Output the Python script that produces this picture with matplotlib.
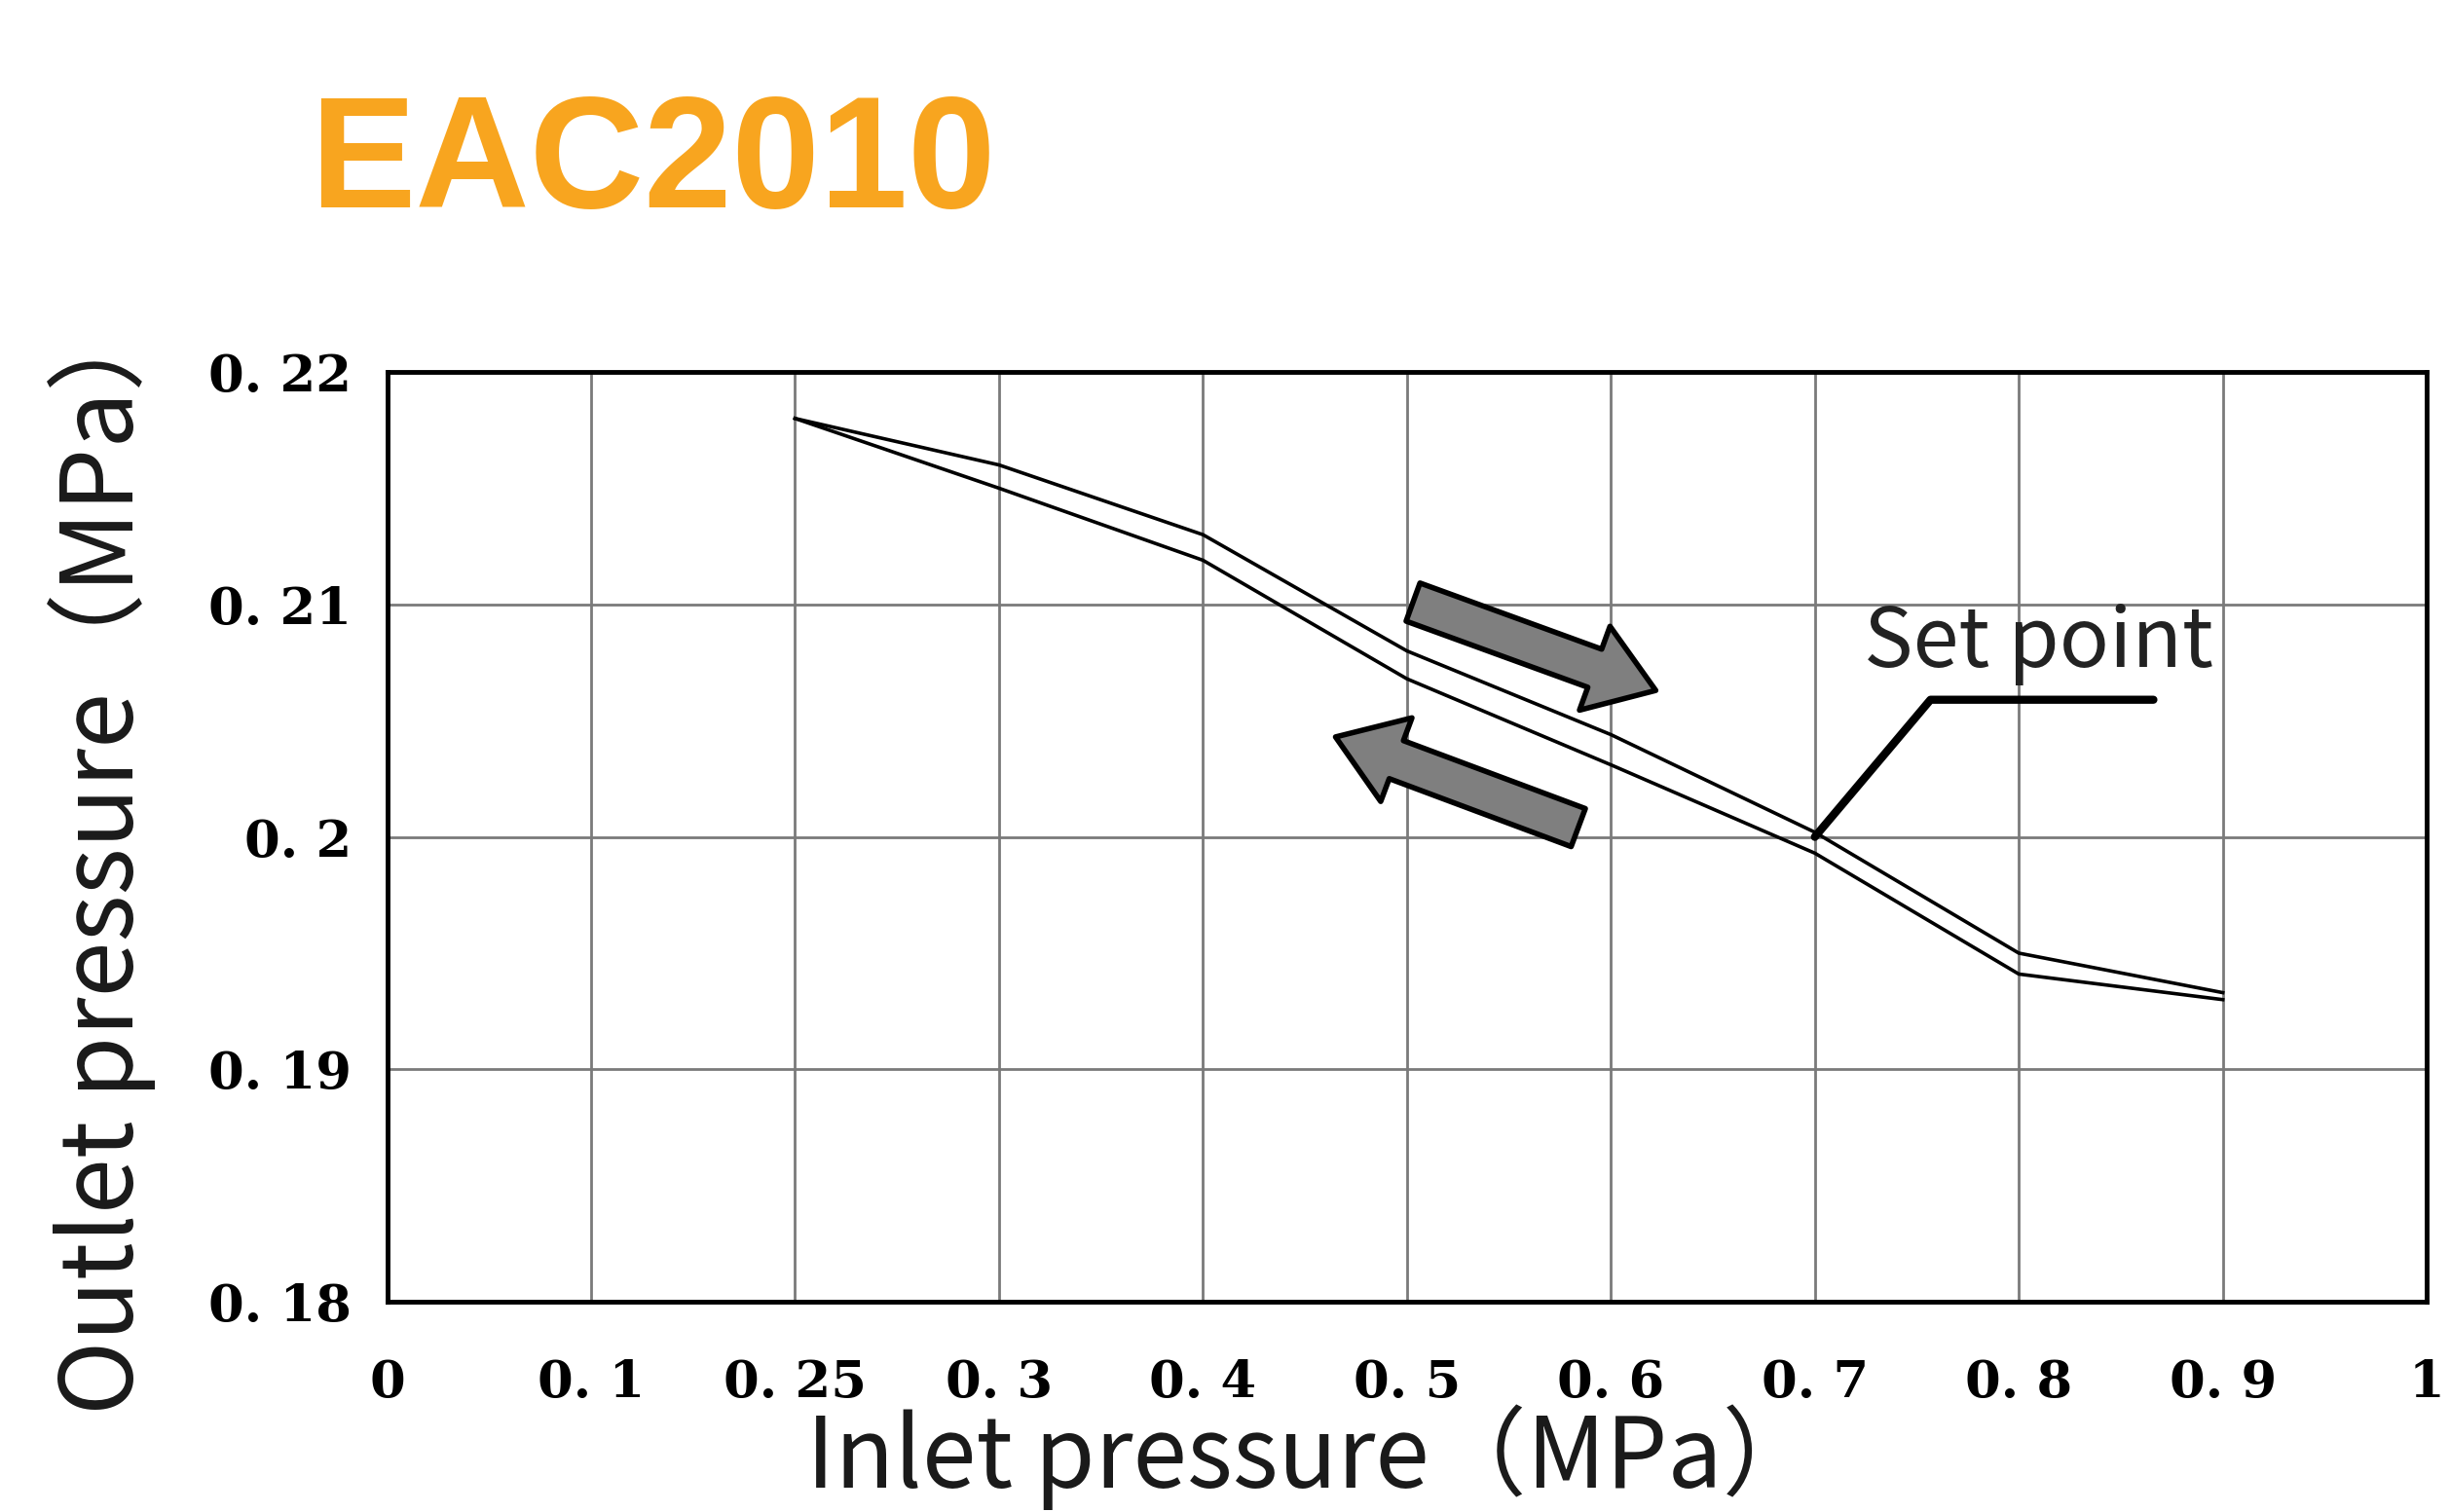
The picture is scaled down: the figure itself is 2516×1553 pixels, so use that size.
import matplotlib
matplotlib.use("Agg")
import matplotlib.pyplot as plt
import matplotlib.patches as mpatches

# inlet pressure tick labels (evenly spaced on the chart)
x_labels = ["0", "0. 1", "0. 25", "0. 3", "0. 4", "0. 5", "0. 6", "0. 7", "0. 8", "0. 9", "1"]
y_ticks = [0.18, 0.19, 0.20, 0.21, 0.22]
y_labels = ["0. 18", "0. 19", "0. 2", "0. 21", "0. 22"]

# curves start at 0.25 and end at 0.9
curve_idx = [2, 3, 4, 5, 6, 7, 8, 9]
upper = [0.2180, 0.2160, 0.2130, 0.2080, 0.2044, 0.2002, 0.1950, 0.1933]
lower = [0.2180, 0.2150, 0.2119, 0.2068, 0.2031, 0.1993, 0.1941, 0.1930]

cjk = ["Noto Sans CJK JP", "DejaVu Sans"]

fig = plt.figure(figsize=(25.16, 15.53), dpi=100)
ax = fig.add_axes([0.158, 0.139, 0.8325, 0.615])

ax.plot(curve_idx, upper, color="black", lw=2.6)
ax.plot(curve_idx, lower, color="black", lw=2.6)

ax.set_xlim(0, 10)
ax.set_ylim(0.18, 0.22)
ax.set_xticks(range(len(x_labels)))
ax.set_xticklabels(x_labels)
ax.set_yticks(y_ticks)
ax.set_yticklabels(y_labels)
for lab in ax.get_xticklabels() + ax.get_yticklabels():
    lab.set_family("DejaVu Serif")
    lab.set_weight("bold")
    lab.set_fontsize(38)
ax.tick_params(axis="y", length=0, pad=26)
ax.tick_params(axis="x", length=0, pad=42)
ax.grid(True, color="#7a7a7a", lw=2)
ax.set_axisbelow(True)
for s in ax.spines.values():
    s.set_linewidth(3.5)
    s.set_color("black")

# hysteresis direction arrows
style = mpatches.ArrowStyle.Simple(head_length=48, head_width=66, tail_width=30)
for a, b in [((5.03, 0.2101), (6.22, 0.2063)), ((5.84, 0.2004), (4.65, 0.2043))]:
    arr = mpatches.FancyArrowPatch(a, b, arrowstyle=style, mutation_scale=1,
                                   fc="#7f7f7f", ec="black", lw=4,
                                   shrinkA=0, shrinkB=0, zorder=5)
    ax.add_patch(arr)

# set point callout
ax.plot([7, 7.567, 8.66], [0.2, 0.2059, 0.2059], color="black", lw=6,
        solid_capstyle="round", zorder=5)
ax.text(7.24, 0.2073, "Set point", fontsize=61, family=cjk, color="#222222",
        va="baseline", ha="left")

fig.text(0.1264, 0.863, "EAC2010", fontsize=117, fontweight="bold",
         family="Liberation Sans", color="#F8A51F", va="baseline")
fig.text(0.0415, 0.436, "Outlet pressure（MPa）", fontsize=74, family=cjk,
         rotation=90, ha="center", va="center", color="#1a1a1a")
fig.text(0.536, 0.036, "Inlet pressure（MPa）", fontsize=72, family=cjk,
         ha="center", va="center", color="#1a1a1a")

fig.savefig("out.png", dpi=100)
